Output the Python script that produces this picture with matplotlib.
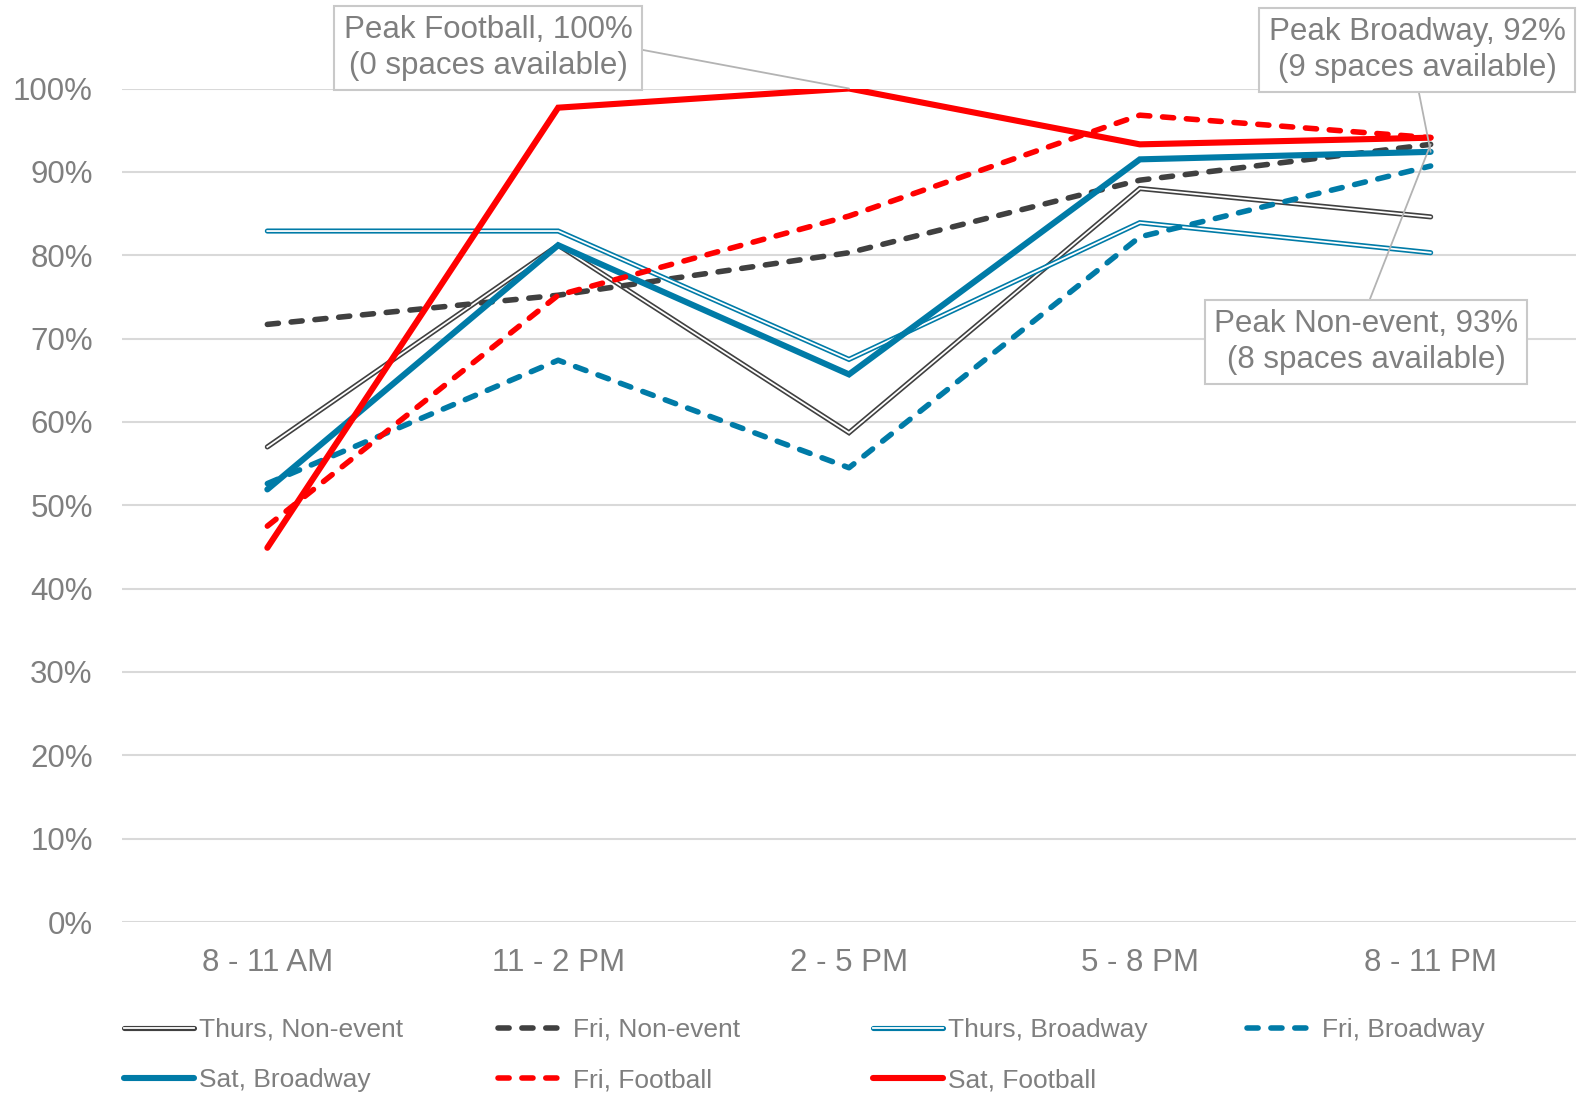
import matplotlib.pyplot as plt
import matplotlib.patheffects as pe
from matplotlib.ticker import PercentFormatter
import numpy as np

plt.rcParams['font.family'] = ['Liberation Sans', 'DejaVu Sans']

# Occupancy by time period
periods = ['8 - 11 AM', '11 - 2 PM', '2 - 5 PM', '5 - 8 PM', '8 - 11 PM']
thurs_nonevent = [0.570, 0.812, 0.587, 0.880, 0.846]
fri_nonevent = [0.717, 0.752, 0.803, 0.890, 0.933]
thurs_broadway = [0.829, 0.829, 0.675, 0.839, 0.803]
fri_broadway = [0.526, 0.674, 0.545, 0.822, 0.907]
sat_broadway = [0.519, 0.812, 0.657, 0.915, 0.924]
fri_football = [0.475, 0.752, 0.847, 0.968, 0.941]
sat_football = [0.449, 0.977, 1.000, 0.933, 0.941]

GREY = '#404040'
BLUE = '#007BA7'
RED = '#FF0000'
TXT = '#7F7F7F'

fig = plt.figure(figsize=(15.96, 10.94), dpi=100)
ax = fig.add_axes([0.0764, 0.1572, 0.9111, 0.7619])
x = np.arange(len(periods))

dash = (0, (2.0, 2.3))


def double(color):
    # hollow line: coloured outline with a white core
    return [pe.Stroke(linewidth=3.7, foreground=color, capstyle='round'), pe.Normal()]


series = [
    ('Thurs, Non-event', thurs_nonevent, dict(color='white', lw=1.3, path_effects=double(GREY))),
    ('Fri, Non-event', fri_nonevent, dict(color=GREY, lw=4.0, ls=dash, dash_capstyle='round')),
    ('Thurs, Broadway', thurs_broadway, dict(color='white', lw=1.3, path_effects=double(BLUE))),
    ('Fri, Broadway', fri_broadway, dict(color=BLUE, lw=4.0, ls=dash, dash_capstyle='round')),
    ('Sat, Broadway', sat_broadway, dict(color=BLUE, lw=4.4, solid_capstyle='round')),
    ('Fri, Football', fri_football, dict(color=RED, lw=4.0, ls=dash, dash_capstyle='round')),
    ('Sat, Football', sat_football, dict(color=RED, lw=4.4, solid_capstyle='round')),
]

handles = []
for label, vals, style in series:
    ln, = ax.plot(x, vals, label=label, solid_joinstyle='miter', **style)
    handles.append(ln)

ax.set_xlim(-0.5, len(periods) - 0.5)
ax.set_ylim(0, 1.0)
ax.set_yticks(np.arange(0, 1.01, 0.1))
ax.yaxis.set_major_formatter(PercentFormatter(1.0, decimals=0))
ax.set_xticks(x)
ax.set_xticklabels(periods)
ax.tick_params(axis='y', length=0, pad=21, labelsize=22.5, labelcolor=TXT)
ax.tick_params(axis='x', length=0, pad=19, labelsize=22.5, labelcolor=TXT)
ax.grid(axis='y', color='#D9D9D9', lw=1.5)
ax.set_axisbelow(True)
for s in ax.spines.values():
    s.set_visible(False)

# Callouts for the peaks
box = dict(boxstyle='square,pad=0.3', fc='white', ec='#C9C9C9', lw=1.5)
lead = dict(arrowstyle='-', color='#B3B3B3', lw=1.3, shrinkA=0, shrinkB=0)

i = int(np.argmax(sat_football))
ax.annotate(f'Peak Football, {sat_football[i]:.0%}\n(0 spaces available)',
            xy=(i, sat_football[i]), xytext=(488, 1046), textcoords='figure pixels',
            ha='center', va='center', fontsize=22.5, color=TXT, linespacing=1.25,
            bbox=box, annotation_clip=False,
            arrowprops=dict(lead, relpos=(1.0, 0.5)))

i = int(np.argmax(sat_broadway))
ax.annotate(f'Peak Broadway, {sat_broadway[i]:.0%}\n(9 spaces available)',
            xy=(i, sat_broadway[i]), xytext=(1417, 1044), textcoords='figure pixels',
            ha='center', va='center', fontsize=22.5, color=TXT, linespacing=1.25,
            bbox=box, annotation_clip=False,
            arrowprops=dict(lead, relpos=(0.5, 0.0)))

i = int(np.argmax(fri_nonevent))
ax.annotate(f'Peak Non-event, {fri_nonevent[i]:.0%}\n(8 spaces available)',
            xy=(i, fri_nonevent[i]), xytext=(1366, 752), textcoords='figure pixels',
            ha='center', va='center', fontsize=22.5, color=TXT, linespacing=1.25,
            bbox=box, annotation_clip=False,
            arrowprops=dict(lead, relpos=(0.5, 1.0)))

# Legend laid out as four equal columns, two rows
col_x = [124, 498, 873, 1247]
columns = [[0, 4], [1, 5], [2, 6], [3]]
for cx, idx in zip(col_x, columns):
    leg = fig.legend([handles[k] for k in idx], [handles[k].get_label() for k in idx],
                     loc='upper left', bbox_to_anchor=(cx / 1596, 0.0695),
                     frameon=False, fontsize=19, labelcolor=TXT,
                     handlelength=2.65, handletextpad=0.2, borderpad=0,
                     borderaxespad=0, labelspacing=1.0)

fig.savefig('out.png', dpi=100)
